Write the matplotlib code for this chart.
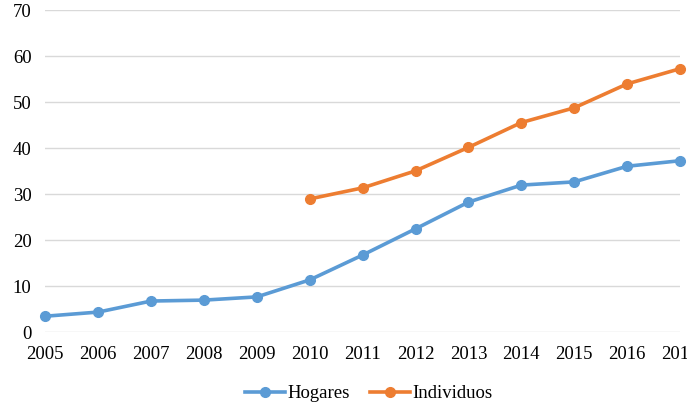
import numpy as np
import matplotlib.pyplot as plt

# values
years = [2005, 2006, 2007, 2008, 2009, 2010, 2011, 2012, 2013, 2014, 2015, 2016, 2017]
hogares = [3.5, 4.4, 6.8, 7.0, 7.7, 11.4, 16.8, 22.5, 28.3, 32.0, 32.7, 36.1, 37.3]
ind_years = [2010, 2011, 2012, 2013, 2014, 2015, 2016, 2017]
individuos = [29.0, 31.4, 35.1, 40.2, 45.6, 48.8, 54.0, 57.3]

plt.rcParams['font.family'] = ['Liberation Serif', 'DejaVu Serif']

fig = plt.figure(figsize=(6.87, 4.09), dpi=100)
ax = fig.add_axes([0.066, 0.1875, 0.9238, 0.7873])

ax.plot(years, hogares, color='#5B9BD5', lw=2.6, marker='o', ms=7,
        label='Hogares', clip_on=False, zorder=3)
ax.plot(ind_years, individuos, color='#ED7D31', lw=2.6, marker='o', ms=7,
        label='Individuos', clip_on=False, zorder=3)

ax.set_xlim(2005, 2017)
ax.set_ylim(0, 70)
ax.set_xticks(years)
ax.set_yticks(range(0, 71, 10))
ax.grid(axis='y', color='#d9d9d9', lw=1)
ax.set_axisbelow(True)
for s in ax.spines.values():
    s.set_visible(False)
ax.tick_params(length=0, labelsize=13.5)
ax.tick_params(axis='y', pad=10)
ax.tick_params(axis='x', pad=10)

fig.legend(loc='lower center', bbox_to_anchor=(0.537, -0.025), ncol=2,
           frameon=False, fontsize=13.5, handlelength=2.1, columnspacing=1.1,
           handletextpad=0.15)

fig.savefig('out.png', dpi=100)
